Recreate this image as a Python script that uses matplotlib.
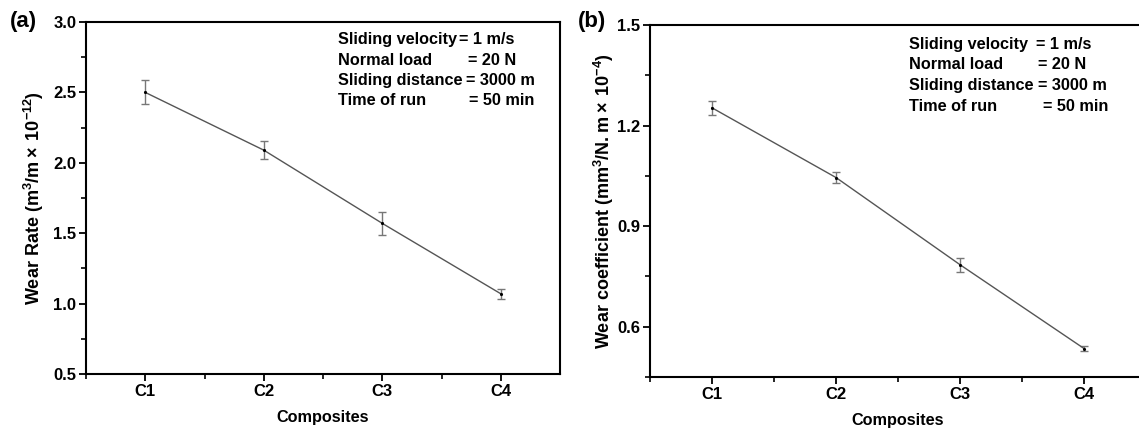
import numpy as np
import matplotlib
matplotlib.use('Agg')
import matplotlib.pyplot as plt

plt.rcParams['font.family'] = ['Liberation Sans', 'DejaVu Sans']
plt.rcParams['font.weight'] = 'bold'
plt.rcParams['mathtext.fontset'] = 'custom'
plt.rcParams['mathtext.rm'] = 'Liberation Sans'
plt.rcParams['mathtext.bf'] = 'Liberation Sans:bold'

COMPOSITES = ['C1', 'C2', 'C3', 'C4']
WEAR_RATE = [2.50, 2.09, 1.57, 1.07]
WEAR_RATE_ERR = [0.085, 0.065, 0.08, 0.035]
WEAR_COEF = [1.253, 1.045, 0.785, 0.535]
WEAR_COEF_ERR = [0.02, 0.016, 0.021, 0.008]

RATE_TICKS = [0.5, 1.0, 1.5, 2.0, 2.5, 3.0]
RATE_MINOR = [0.75, 1.25, 1.75, 2.25, 2.75]
COEF_TICKS = [0.6, 0.9, 1.2, 1.5]
COEF_MINOR = [0.45, 0.75, 1.05, 1.35]

COND_LABELS = ['Sliding velocity', 'Normal load', 'Sliding distance', 'Time of run']
COND_VALUES = ['= 1 m/s', '= 20 N', '= 3000 m', '= 50 min']

FS = 12

fig = plt.figure(figsize=(11.39, 4.36), dpi=100)
axa = fig.add_axes([86 / 1139, 1 - 374 / 436, 474 / 1139, 352 / 436])
axb = fig.add_axes([650 / 1139, 1 - 377 / 436, 496 / 1139, 352 / 436])

x = np.arange(1, len(COMPOSITES) + 1)


def style(ax, ylim, ticks, minor):
    ax.set_xlim(0.5, 4.5)
    ax.set_ylim(*ylim)
    ax.set_xticks(x)
    ax.set_xticklabels(COMPOSITES)
    ax.set_xticks([0.5, 1.5, 2.5, 3.5], minor=True)
    ax.set_yticks(ticks)
    ax.set_yticklabels([f'{t:.1f}' for t in ticks])
    ax.set_yticks(minor, minor=True)
    for s in ax.spines.values():
        s.set_linewidth(1.5)
    ax.tick_params(which='major', direction='out', length=5, width=1.3,
                   labelsize=FS, pad=2, top=False, right=False)
    ax.tick_params(which='minor', direction='out', length=3.5, width=1.2,
                   top=False, right=False)
    for t in ax.get_xticklabels() + ax.get_yticklabels():
        t.set_fontweight('bold')
    ax.set_xlabel('Composites', fontsize=11.7, fontweight='bold', labelpad=8)


def conditions(ax, x0, xv, y0, dy):
    for i, (lab, val) in enumerate(zip(COND_LABELS, COND_VALUES)):
        ax.text(x0, y0 - i * dy, lab, transform=ax.transAxes, fontsize=11.7,
                fontweight='bold', va='center', ha='left')
        ax.text(xv[i], y0 - i * dy, val, transform=ax.transAxes, fontsize=11.7,
                fontweight='bold', va='center', ha='left')


# (a) wear rate
axa.errorbar(x, WEAR_RATE, yerr=WEAR_RATE_ERR, color='#555555', lw=1.0,
             ecolor='#777777', elinewidth=1.0, capsize=3, capthick=1.0,
             marker='.', ms=2.5, mfc='black', mec='black')
style(axa, (0.5, 3.0), RATE_TICKS, RATE_MINOR)
axa.set_ylabel(r'Wear Rate (m$^{\mathbf{3}}\mathrm{/m\times\,10^{-12})}$',
               fontsize=13, fontweight='bold', labelpad=5)
conditions(axa, 0.532, [0.787, 0.806, 0.802, 0.808], 0.949, 0.0577)
fig.text(10 / 1139, 1 - 22 / 436, '(a)', fontsize=16, fontweight='bold',
         va='center', ha='left')

# (b) wear coefficient
axb.errorbar(x, WEAR_COEF, yerr=WEAR_COEF_ERR, color='#555555', lw=1.0,
             ecolor='#777777', elinewidth=1.0, capsize=3, capthick=1.0,
             marker='.', ms=2.5, mfc='black', mec='black')
style(axb, (0.45, 1.5), COEF_TICKS, COEF_MINOR)
axb.set_ylabel(r'Wear coefficient (mm$^{\mathbf{3}}\mathrm{/N.m\times\,10^{-4})}$',
               fontsize=13, fontweight='bold', labelpad=1)
conditions(axb, 0.522, [0.778, 0.782, 0.782, 0.792], 0.946, 0.0588)
fig.text(578 / 1139, 1 - 22 / 436, '(b)', fontsize=16, fontweight='bold',
         va='center', ha='left')

fig.savefig('out.png', dpi=100)
